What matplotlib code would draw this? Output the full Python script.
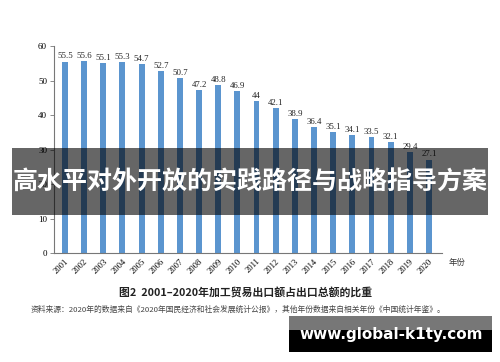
import matplotlib.pyplot as plt
import matplotlib.patches as patches

years = [str(y) for y in range(2001, 2021)]
shares = [55.5, 55.6, 55.1, 55.3, 54.7, 52.7, 50.7, 47.2, 48.8, 46.9,
          44, 42.1, 38.9, 36.4, 35.1, 34.1, 33.5, 32.1, 29.4, 27.1]
yticks = [0, 10, 20, 30, 40, 50, 60]

banner_title = '高水平对外开放的实践路径与战略指导方案'
caption = '图2  2001–2020年加工贸易出口额占出口总额的比重'
source = '资料来源：2020年的数据来自《2020年国民经济和社会发展统计公报》，其他年份数据来自相关年份《中国统计年鉴》。'
watermark = 'www.global-k1ty.com'

W, H = 500, 362
fig = plt.figure(figsize=(W / 100, H / 100), dpi=100)
fig.patch.set_facecolor('white')

def fx(px):
    return px / W

def fy(py):
    return 1 - py / H

ax = fig.add_axes([fx(54), fy(253), fx(442) - fx(54), fy(46) - fy(253)])
x = list(range(len(years)))
ax.bar(x, shares, width=0.31, color='#5b95cf', zorder=2)
for xi, v in zip(x, shares):
    ax.text(xi, v + 0.3, f'{v:g}', ha='center', va='bottom',
            fontsize=6.3, family='Liberation Serif', color='#222222')

ax.set_xlim(-0.57, 19.68)
ax.set_ylim(0, 60)
ax.set_yticks(yticks)
ax.set_yticklabels([str(t) for t in yticks], family='Liberation Serif', fontsize=6.5)
ax.set_xticks(x)
ax.set_xticklabels(years, rotation=45, ha='right', va='top', rotation_mode='anchor',
                   family='Liberation Serif', fontsize=6.2)
for s in ['top', 'right']:
    ax.spines[s].set_visible(False)
for s in ['left', 'bottom']:
    ax.spines[s].set_color('#777777')
    ax.spines[s].set_linewidth(0.8)
ax.tick_params(axis='y', length=3, width=0.6, color='#777777', pad=2)
ax.tick_params(axis='x', length=0, pad=3)

fig.text(fx(449), fy(263), '年份', fontsize=6, family=['Noto Sans CJK SC'],
         ha='left', va='center', color='#333333')
fig.text(fx(246), fy(292), caption, fontsize=7.8, family=['Noto Sans CJK SC'],
         fontweight='bold', ha='center', va='center', color='#222222')
fig.text(fx(238), fy(310), source, fontsize=5.6, family=['Noto Sans CJK SC'],
         ha='center', va='center', color='#444444')

# dark banner over the chart
fig.patches.append(patches.Rectangle((fx(12), fy(215)), fx(488) - fx(12), fy(148) - fy(215),
                                     transform=fig.transFigure, facecolor='black',
                                     alpha=0.6, edgecolor='none', zorder=5))
fig.text(fx(250), fy(183), banner_title, fontsize=18, family=['Noto Sans CJK SC'],
         fontweight='bold', color='white', ha='center', va='center', zorder=6)

# watermark box
fig.patches.append(patches.Rectangle((fx(289), fy(352)), fx(492) - fx(289), fy(316) - fy(352),
                                     transform=fig.transFigure, facecolor='black',
                                     edgecolor='none', zorder=5))
fig.patches.append(patches.Rectangle((fx(289), fy(330)), fx(492) - fx(289), fy(316) - fy(330),
                                     transform=fig.transFigure, facecolor='#777777',
                                     edgecolor='none', zorder=5))
fig.text(fx(391), fy(335), watermark, fontsize=11, family='DejaVu Sans',
         fontweight='bold', color='white', ha='center', va='center', zorder=6)

fig.savefig('out.png', dpi=100)
